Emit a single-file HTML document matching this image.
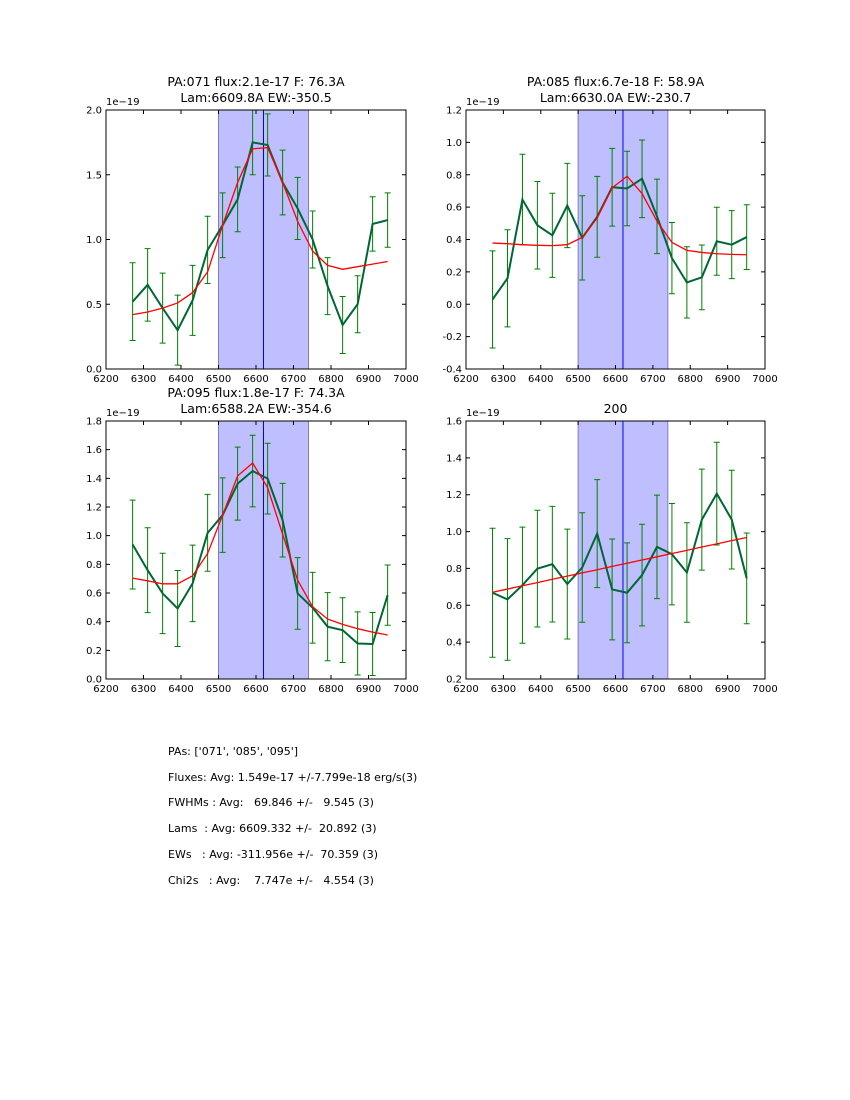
<!DOCTYPE html>
<html><head><meta charset="utf-8"><style>
body{margin:0;background:#fff;}
#wrap{position:relative;width:850px;height:1100px;font-family:"DejaVu Sans","Liberation Sans",sans-serif;}
.st{position:absolute;left:168px;font-size:11px;white-space:pre;color:#000;}
</style></head><body>
<div id="wrap">
<svg id="svg" width="850" height="1100" style="position:absolute;left:0;top:0"></svg>
<div class="st" style="top:745px">PAs: ['071', '085', '095']</div>
<div class="st" style="top:771px">Fluxes: Avg: 1.549e-17 +/-7.799e-18 erg/s(3)</div>
<div class="st" style="top:796px">FWHMs : Avg:   69.846 +/-   9.545 (3)</div>
<div class="st" style="top:822px">Lams  : Avg: 6609.332 +/-  20.892 (3)</div>
<div class="st" style="top:848px">EWs   : Avg: -311.956e +/-  70.359 (3)</div>
<div class="st" style="top:874px">Chi2s   : Avg:    7.747e +/-   4.554 (3)</div>
</div>
<script>
const wavelengths = [6271,6311,6351,6391,6431,6471,6511,6551,6591,6631,6671,6711,6751,6791,6831,6871,6911,6951];
const p1Flux = [0.52,0.65,0.47,0.30,0.53,0.92,1.11,1.31,1.75,1.73,1.44,1.24,1.00,0.64,0.34,0.50,1.12,1.15];
const p1Err  = [0.30,0.28,0.27,0.27,0.27,0.26,0.25,0.25,0.25,0.24,0.25,0.24,0.22,0.22,0.22,0.22,0.21,0.21];
const p1Fit  = [0.42,0.44,0.47,0.51,0.59,0.75,1.11,1.44,1.70,1.71,1.44,1.14,0.91,0.80,0.77,0.79,0.81,0.83];
const p2Flux = [0.03,0.16,0.647,0.488,0.426,0.61,0.41,0.54,0.723,0.715,0.775,0.543,0.285,0.135,0.166,0.389,0.368,0.415];
const p2Err  = [0.30,0.30,0.28,0.27,0.26,0.26,0.26,0.25,0.24,0.23,0.24,0.23,0.22,0.22,0.20,0.21,0.21,0.20];
const p2Fit  = [0.378,0.374,0.368,0.364,0.362,0.368,0.413,0.533,0.719,0.791,0.684,0.513,0.382,0.333,0.320,0.312,0.308,0.306];
const p3Flux = [0.938,0.759,0.597,0.492,0.667,1.020,1.143,1.363,1.451,1.398,1.108,0.597,0.497,0.365,0.341,0.248,0.244,0.585];
const p3Err  = [0.31,0.296,0.28,0.265,0.267,0.268,0.26,0.255,0.25,0.247,0.257,0.25,0.247,0.238,0.226,0.22,0.22,0.21];
const p3Fit  = [0.704,0.685,0.664,0.664,0.720,0.876,1.143,1.417,1.507,1.335,1.010,0.690,0.504,0.418,0.381,0.351,0.327,0.307];
const p4Flux = [0.668,0.632,0.709,0.799,0.823,0.715,0.805,0.989,0.686,0.668,0.764,0.917,0.877,0.778,1.065,1.206,1.065,0.746];
const p4Err  = [0.35,0.33,0.315,0.317,0.314,0.298,0.297,0.293,0.274,0.271,0.276,0.281,0.275,0.27,0.274,0.279,0.268,0.246];
const p4Fit  = [0.671,0.688,0.706,0.723,0.741,0.758,0.776,0.793,0.811,0.828,0.846,0.863,0.881,0.898,0.916,0.933,0.951,0.968];
const xTicks = [6200,6300,6400,6500,6600,6700,6800,6900,7000];
const p1YTicks = [0.0,0.5,1.0,1.5,2.0];
const p2YTicks = [-0.4,-0.2,0.0,0.2,0.4,0.6,0.8,1.0,1.2];
const p3YTicks = [0.0,0.2,0.4,0.6,0.8,1.0,1.2,1.4,1.6,1.8];
const p4YTicks = [0.2,0.4,0.6,0.8,1.0,1.2,1.4,1.6];
const spanRange = [6500,6740];
const lineCenter = 6620;
const titles1 = ["PA:071 flux:2.1e-17 F: 76.3A","Lam:6609.8A EW:-350.5"];
const titles2 = ["PA:085 flux:6.7e-18 F: 58.9A","Lam:6630.0A EW:-230.7"];
const titles3 = ["PA:095 flux:1.8e-17 F: 74.3A","Lam:6588.2A EW:-354.6"];
const titles4 = ["200"];

const NS="http://www.w3.org/2000/svg";
const svg=document.getElementById('svg');
function mk(tag,attrs,parent){const e=document.createElementNS(NS,tag);for(const k in attrs)e.setAttribute(k,attrs[k]);(parent||svg).appendChild(e);return e;}

function panel(name,box,ticksY,flux,err,fit,titles,yDec){
  const g=mk('g',{});
  
  
  const xs=v=>box.x0+(v-6200)/800*(box.x1-box.x0);
  const ymin=ticksY[0],ymax=ticksY[ticksY.length-1];
  const ys=v=>box.y1-(v-ymin)/(ymax-ymin)*(box.y1-box.y0);
  const cx=(box.x0+box.x1)/2;
  titles.forEach((t,i)=>{
    const tt=mk('text',{x:cx,y:box.y0-24+16*i+(titles.length===1?16:0),'text-anchor':'middle','font-size':'12.5'},g);
    tt.textContent=t;
    
    
  });
  const sp=mk('rect',{x:xs(spanRange[0]),y:box.y0,width:xs(spanRange[1])-xs(spanRange[0]),height:box.y1-box.y0,fill:'#bfbfff',stroke:'#7f7fbf','stroke-width':1},g);
  
  
  const vl=mk('line',{x1:xs(lineCenter),x2:xs(lineCenter),y1:box.y0,y2:box.y1,stroke:'#0000ff','stroke-width':1},g);
  
  
  wavelengths.forEach((w,i)=>{
    const x=xs(w),a=ys(flux[i]+err[i]),b=ys(flux[i]-err[i]);
    const eb=mk('path',{d:`M${x},${a}V${b}M${x-3},${a}h6M${x-3},${b}h6`,stroke:'#008000','stroke-width':1,fill:'none'},g);
    
    
  });
  const gl=mk('polyline',{points:wavelengths.map((w,i)=>xs(w)+','+ys(flux[i])).join(' '),fill:'none',stroke:'#006633','stroke-width':2},g);
  
  
  const rl=mk('polyline',{points:wavelengths.map((w,i)=>xs(w)+','+ys(fit[i])).join(' '),fill:'none',stroke:'#ff0000','stroke-width':1.3},g);
  
  
  const fr=mk('rect',{x:box.x0,y:box.y0,width:box.x1-box.x0,height:box.y1-box.y0,fill:'none',stroke:'#000','stroke-width':1},g);
  
  
  xTicks.forEach(t=>{
    const x=xs(t);
    mk('path',{d:`M${x},${box.y1}v-4M${x},${box.y0}v4`,stroke:'#000','stroke-width':1},g);
    const tl=mk('text',{x:x,y:box.y1+13,'text-anchor':'middle','font-size':'10'},g);
    tl.textContent=t;
    
    
  });
  ticksY.forEach(t=>{
    const y=ys(t);
    mk('path',{d:`M${box.x0},${y}h4M${box.x1},${y}h-4`,stroke:'#000','stroke-width':1},g);
    const tl=mk('text',{x:box.x0-4,y:y+3.5,'text-anchor':'end','font-size':'10'},g);
    tl.textContent=t.toFixed(yDec);
    
    
  });
  const off=mk('text',{x:box.x0,y:box.y0-5,'font-size':'10'},g);
  off.textContent='1e\u221219';
  
  
}
panel('panel-pa071',{x0:106,x1:406,y0:110,y1:369},p1YTicks,p1Flux,p1Err,p1Fit,titles1,1);
panel('panel-pa085',{x0:466,x1:765,y0:110,y1:369},p2YTicks,p2Flux,p2Err,p2Fit,titles2,1);
panel('panel-pa095',{x0:106,x1:406,y0:421,y1:679},p3YTicks,p3Flux,p3Err,p3Fit,titles3,1);
panel('panel-200',{x0:466,x1:765,y0:421,y1:679},p4YTicks,p4Flux,p4Err,p4Fit,titles4,1);
</script>
</body></html>
